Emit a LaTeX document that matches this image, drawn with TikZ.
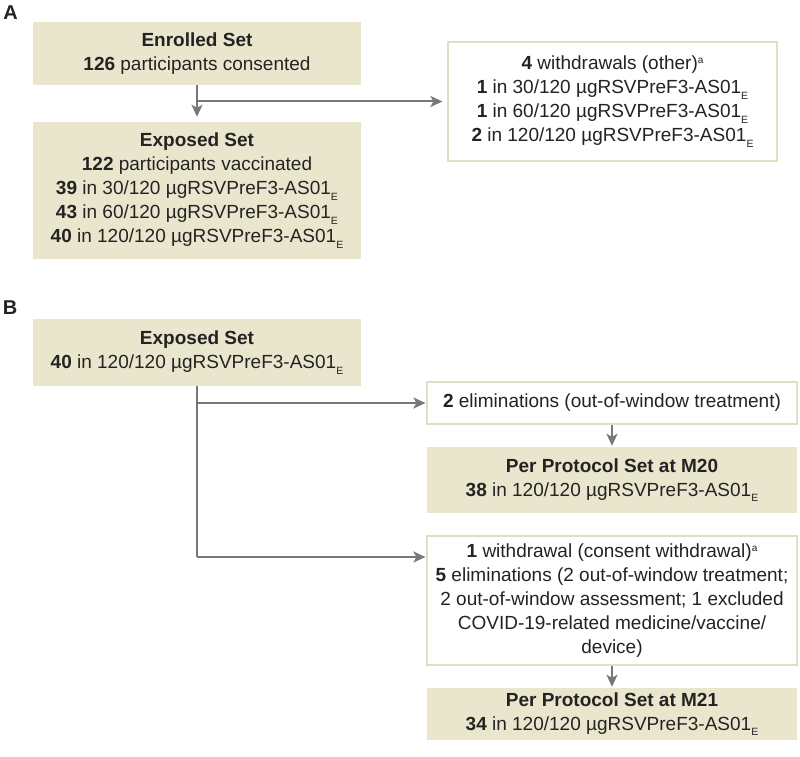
\documentclass[tikz,border=0pt]{standalone}
\usepackage{fontspec}
\setmainfont{Liberation Sans}
\usepackage{xcolor}
\usetikzlibrary{arrows.meta}
\definecolor{setfill}{RGB}{234,230,205}
\definecolor{setline}{RGB}{226,222,192}
\definecolor{arrowgray}{RGB}{120,120,120}
\definecolor{textgray}{RGB}{35,35,35}
\newcommand{\subE}{\raisebox{-5.5pt}{\fontsize{10.5}{10.5}\selectfont E}}
\newcommand{\supa}{\raisebox{6pt}{\fontsize{10}{10}\selectfont a}}
\newcommand{\dosegroup}[2]{\textbf{#1} in #2/120 µgRSVPreF3-AS01\subE}

\begin{document}
\begin{tikzpicture}[x=1pt,y=-1pt,
	setbox/.style={fill=setfill,align=center,inner sep=0pt,text=textgray,font=\fontsize{19}{24}\selectfont},
	outbox/.style={setbox,fill=white,draw=setline,line width=1.2pt},
	arr/.style={draw=arrowgray,line width=2pt,-{Stealth[length=12pt,width=11pt,inset=3pt]}},
	arrline/.style={draw=arrowgray,line width=2pt}]

	\useasboundingbox (0,0) rectangle (800,757);

	% panel A

	\node[font=\fontsize{20}{20}\selectfont\bfseries,text=textgray] (labelA) at (10.5,13) {A};
	\node[setbox,minimum width=328pt,minimum height=63pt] (enrolled) at (197,53.5)
		{\textbf{Enrolled Set}\\\textbf{126} participants consented};
	\node[setbox,minimum width=328pt,minimum height=137pt] (exposedA) at (197,190.5)
		{\textbf{Exposed Set}\\\textbf{122} participants vaccinated\\\dosegroup{39}{30}\\\dosegroup{43}{60}\\\dosegroup{40}{120}};
	\node[outbox,minimum width=329pt,minimum height=119pt] (withdrawA) at (612.5,101.5)
		{\textbf{4} withdrawals (other)\supa\\\dosegroup{1}{30}\\\dosegroup{1}{60}\\\dosegroup{2}{120}};

	\draw[arr,shorten >=5pt] (enrolled.south) -- (exposedA.north);
	\draw[arr,shorten >=5pt] (enrolled.south |- withdrawA.west) -- (withdrawA.west);

	% panel B

	\node[font=\fontsize{20}{20}\selectfont\bfseries,text=textgray] (labelB) at (10,307.5) {B};
	\node[setbox,minimum width=328pt,minimum height=67pt] (exposedB) at (197,352.5)
		{\textbf{Exposed Set}\\\dosegroup{40}{120}};
	\node[outbox,minimum width=370pt,minimum height=42pt] (elim) at (612,403)
		{\textbf{2} eliminations (out-of-window treatment)};
	\node[setbox,minimum width=370pt,minimum height=66pt] (ppM20) at (612,480)
		{\textbf{Per Protocol Set at M20}\\\dosegroup{38}{120}};
	\node[outbox,minimum width=370pt,minimum height=129pt] (withdrawB) at (612,600.5)
		{\textbf{1} withdrawal (consent withdrawal)\supa\\\textbf{5} eliminations (2 out-of-window treatment;\\2 out-of-window assessment; 1 excluded\\COVID-19-related medicine/vaccine/\\device)};
	\node[setbox,minimum width=370pt,minimum height=52pt] (ppM21) at (612,714)
		{\textbf{Per Protocol Set at M21}\\\dosegroup{34}{120}};

	\coordinate (turnB) at (197,557);
	\draw[arrline] (exposedB.south) -- (turnB);
	\draw[arr,shorten >=1pt] (exposedB.south |- elim.west) -- (elim.west);
	\draw[arr,shorten >=1pt] (turnB) -- (turnB -| withdrawB.west);
	\draw[arr,shorten >=1pt] (elim.south) -- (ppM20.north);
	\draw[arr,shorten >=1pt] (withdrawB.south) -- (ppM21.north);

\end{tikzpicture}
\end{document}
